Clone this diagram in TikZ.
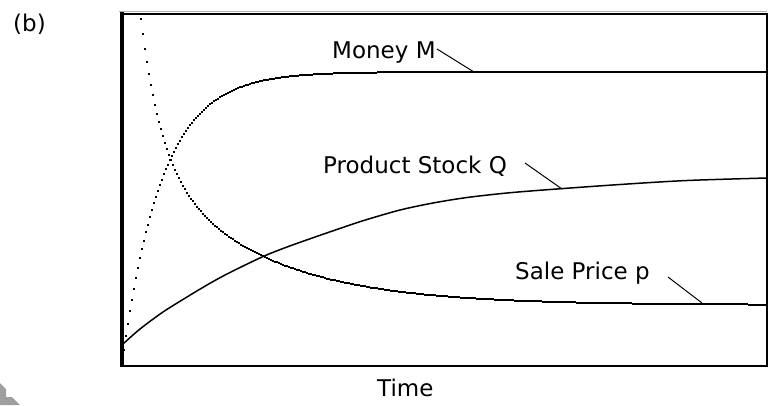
\documentclass[tikz,border=0pt]{standalone}
\usepackage{fontspec}
\setmainfont{DejaVu Sans}
\begin{document}
\begin{tikzpicture}[x=1pt,y=-1pt,
  lbl/.style={anchor=base west,inner sep=0pt,font=\fontsize{23}{27}\selectfont},
  leader/.style={line width=1pt},
  curve/.style={line width=1.5pt,line join=round}]
\useasboundingbox (0,0) rectangle (769,405);

% corner mark
\fill[gray!75] (0,383) -- (6,389) -- (6,397) -- (12,397) -- (20,405) -- (0,405) -- cycle;

% panel label
\node[lbl] (panel) at (13,31) {(b)};

% plot frame
\draw[gray!60,line width=1.5pt] (119,11.5) -- (767,11.5);
\draw[line width=2pt] (121,13.5) rectangle (767,366);
\draw[line width=4pt] (121.5,12) -- (121.5,367);

% curves, drawn one time step at a time
\begin{scope}
\clip (123.5,14.5) rectangle (766,365);
% Money M
\foreach \x in {123,125,...,765} {
  \pgfmathsetmacro\yy{round(72+278*exp(-0.025*(\x-123)))}
  \fill (\x,\yy-1) rectangle (\x+2.2,\yy+1);
}
% Sale Price p
\foreach \x in {124,126,...,766} {
  \pgfmathsetmacro\yy{round(305-153*exp(-0.00943*(\x-140))-133*exp(-0.05*(\x-140)))}
  \fill (\x,\yy-1) rectangle (\x+2.2,\yy+1);
}
% Product Stock Q
\draw[curve] plot[smooth,tension=0.5] coordinates {(123,344) (140,329) (163,312) (187,297) (207,285) (227,274) (262,257) (287,247) (318,236) (350,225) (367,219.5) (400,210) (433,203) (467,197.5) (507,193) (550,189.5) (620,184.5) (687,180.5) (767,178)};
\end{scope}

% labels and leaders
\node[lbl] (money) at (332,58) {Money M};
\node[lbl] (stock) at (323,173) {Product Stock Q};
\node[lbl] (price) at (515,279) {Sale Price p};
\node[lbl] (time) at (377,396) {Time};

\coordinate (m0) at (437,49);  \coordinate (m1) at (474,72);
\coordinate (q0) at (525,163); \coordinate (q1) at (562,189);
\coordinate (p0) at (668,277); \coordinate (p1) at (702,303);
\draw[leader] (m0) -- (m1);
\draw[leader] (q0) -- (q1);
\draw[leader] (p0) -- (p1);
\end{tikzpicture}
\end{document}
